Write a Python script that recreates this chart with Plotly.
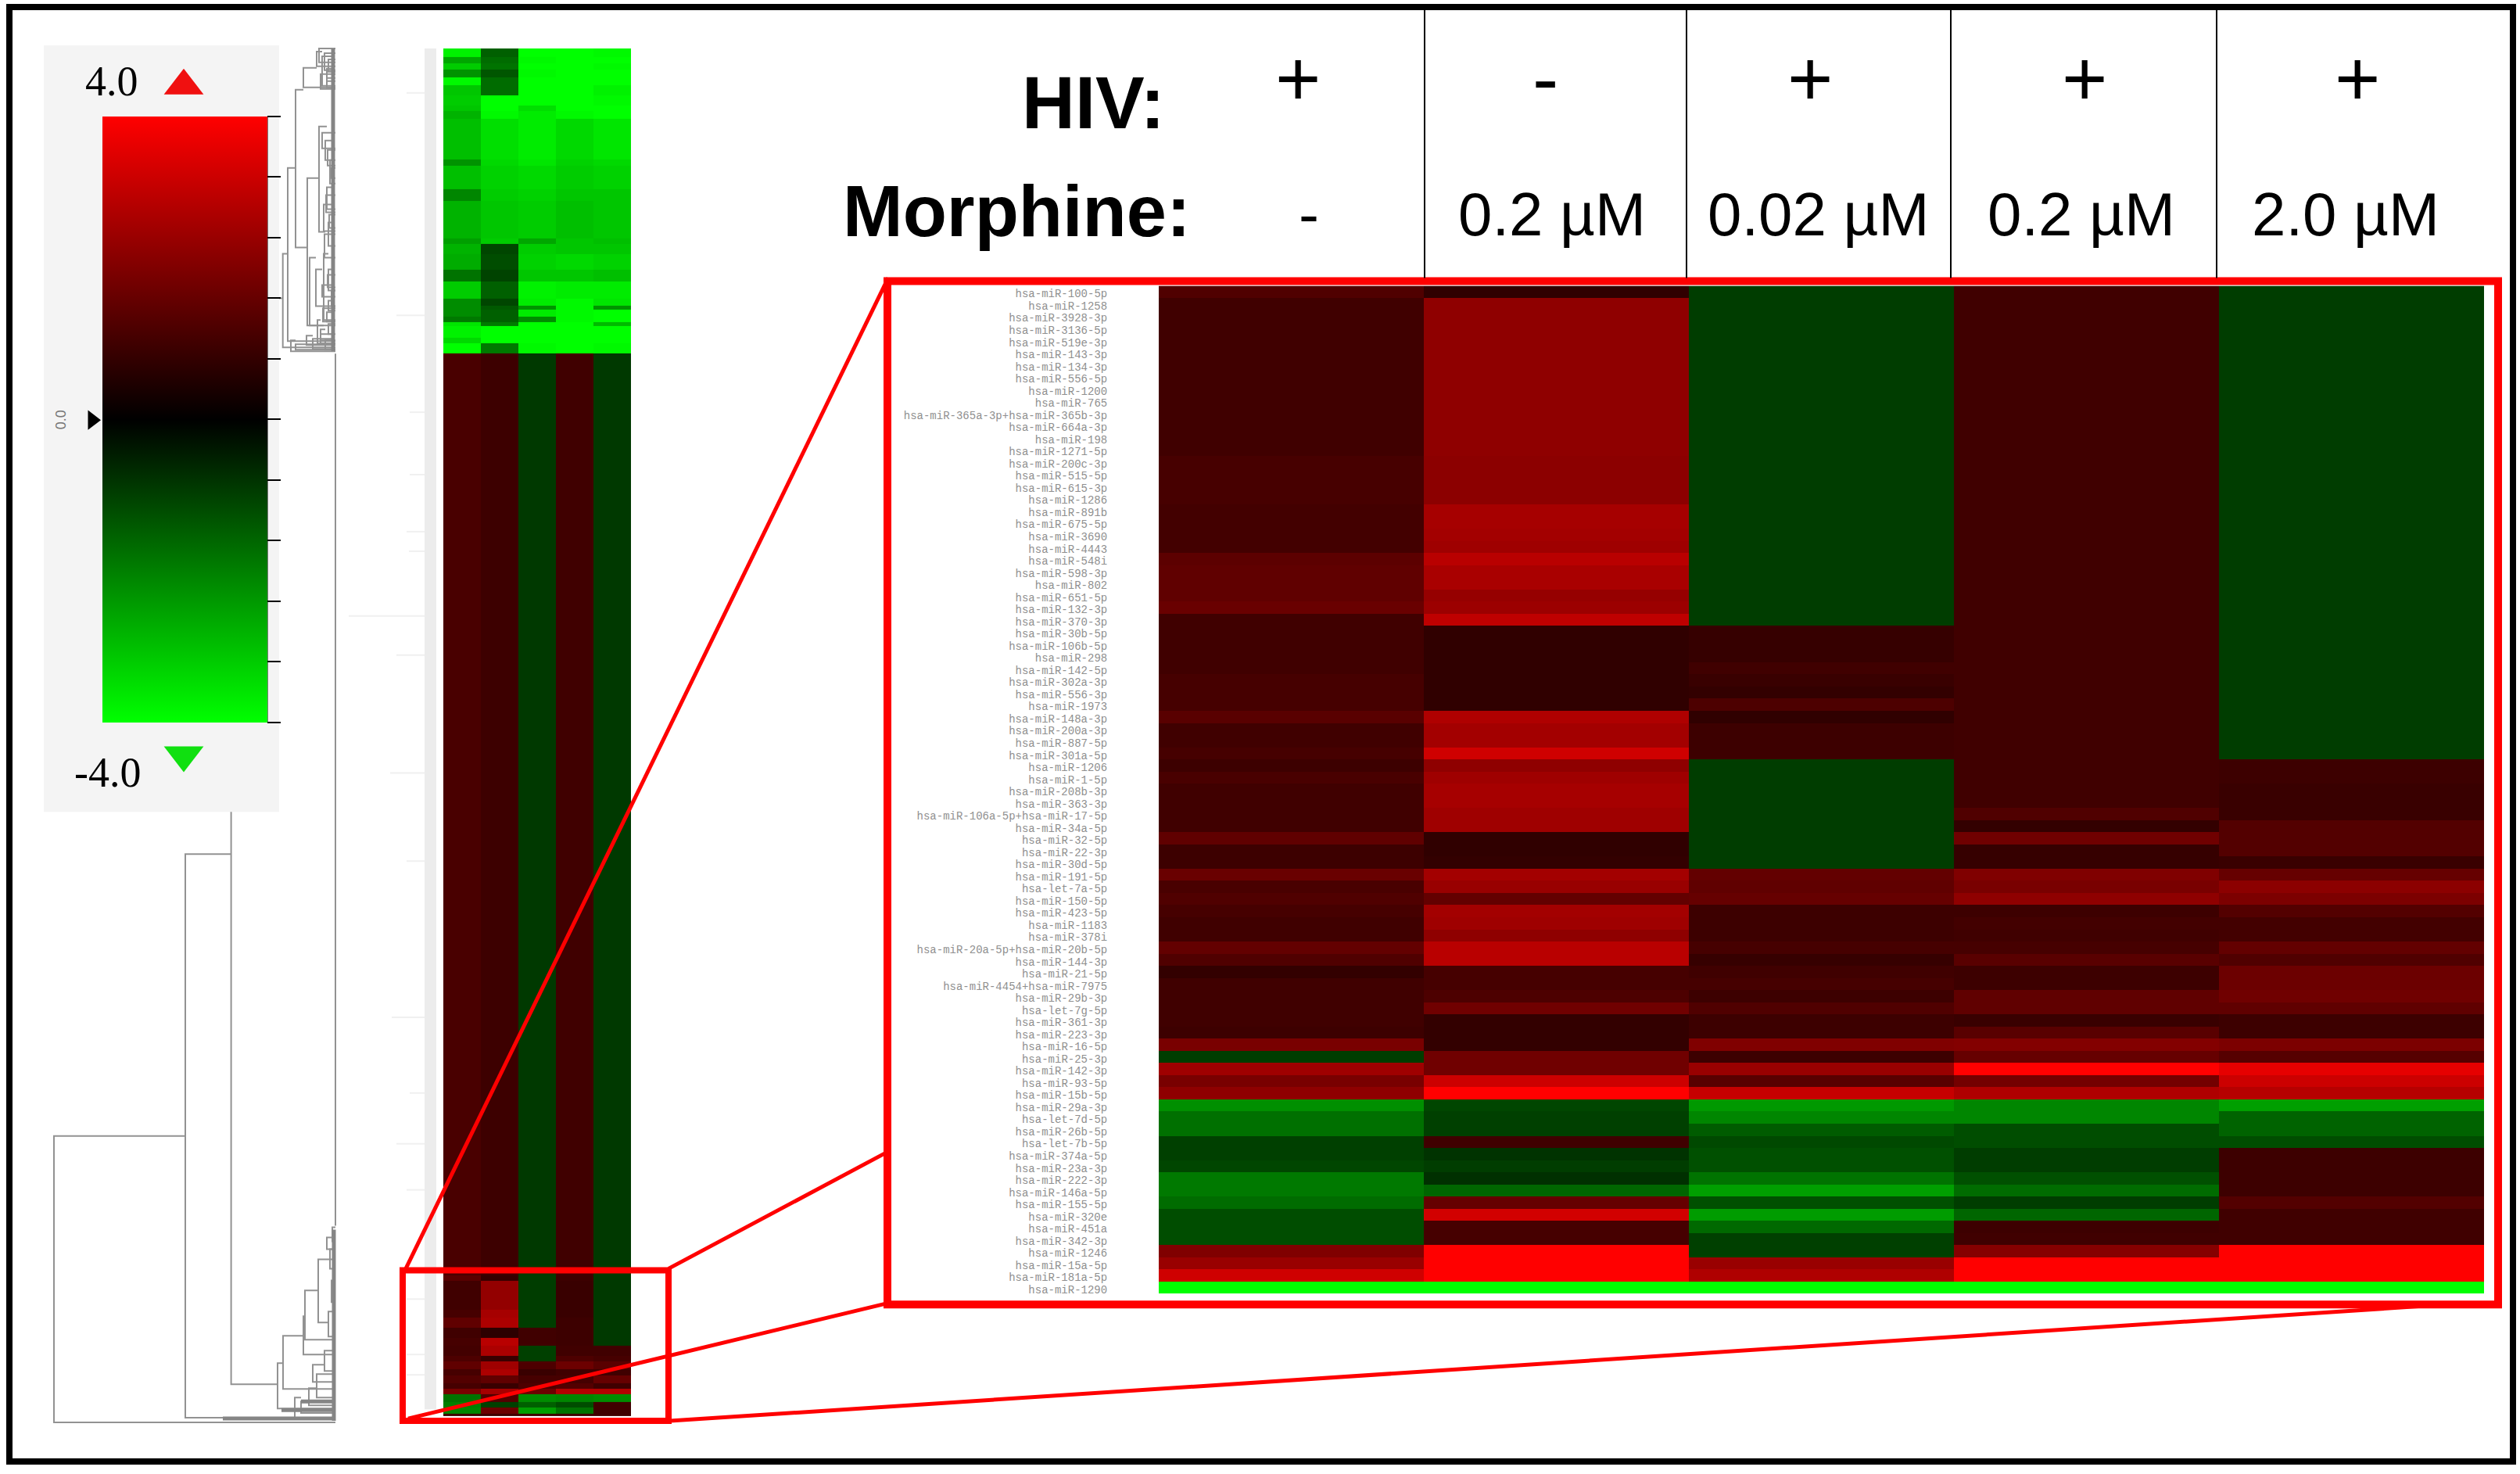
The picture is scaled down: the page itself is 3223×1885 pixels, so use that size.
import plotly.graph_objects as go

W, H = 3223, 1885

mirnas = [
    "hsa-miR-100-5p", "hsa-miR-1258", "hsa-miR-3928-3p", "hsa-miR-3136-5p", "hsa-miR-519e-3p", "hsa-miR-143-3p",
    "hsa-miR-134-3p", "hsa-miR-556-5p", "hsa-miR-1200", "hsa-miR-765", "hsa-miR-365a-3p+hsa-miR-365b-3p",
    "hsa-miR-664a-3p", "hsa-miR-198", "hsa-miR-1271-5p", "hsa-miR-200c-3p", "hsa-miR-515-5p", "hsa-miR-615-3p",
    "hsa-miR-1286", "hsa-miR-891b", "hsa-miR-675-5p", "hsa-miR-3690", "hsa-miR-4443", "hsa-miR-548i",
    "hsa-miR-598-3p", "hsa-miR-802", "hsa-miR-651-5p", "hsa-miR-132-3p", "hsa-miR-370-3p", "hsa-miR-30b-5p",
    "hsa-miR-106b-5p", "hsa-miR-298", "hsa-miR-142-5p", "hsa-miR-302a-3p", "hsa-miR-556-3p", "hsa-miR-1973",
    "hsa-miR-148a-3p", "hsa-miR-200a-3p", "hsa-miR-887-5p", "hsa-miR-301a-5p", "hsa-miR-1206", "hsa-miR-1-5p",
    "hsa-miR-208b-3p", "hsa-miR-363-3p", "hsa-miR-106a-5p+hsa-miR-17-5p", "hsa-miR-34a-5p", "hsa-miR-32-5p",
    "hsa-miR-22-3p", "hsa-miR-30d-5p", "hsa-miR-191-5p", "hsa-let-7a-5p", "hsa-miR-150-5p", "hsa-miR-423-5p",
    "hsa-miR-1183", "hsa-miR-378i", "hsa-miR-20a-5p+hsa-miR-20b-5p", "hsa-miR-144-3p", "hsa-miR-21-5p",
    "hsa-miR-4454+hsa-miR-7975", "hsa-miR-29b-3p", "hsa-let-7g-5p", "hsa-miR-361-3p", "hsa-miR-223-3p",
    "hsa-miR-16-5p", "hsa-miR-25-3p", "hsa-miR-142-3p", "hsa-miR-93-5p", "hsa-miR-15b-5p", "hsa-miR-29a-3p",
    "hsa-let-7d-5p", "hsa-miR-26b-5p", "hsa-let-7b-5p", "hsa-miR-374a-5p", "hsa-miR-23a-3p", "hsa-miR-222-3p",
    "hsa-miR-146a-5p", "hsa-miR-155-5p", "hsa-miR-320e", "hsa-miR-451a", "hsa-miR-342-3p", "hsa-miR-1246",
    "hsa-miR-15a-5p", "hsa-miR-181a-5p", "hsa-miR-1290",
]

col1 = [1.25, 1, 1, 1, 1, 1, 1, 1, 1, 1, 1, 1, 1, 1, 1.12, 1.12, 1.12, 1.12, 1.05, 1.05, 1.05, 1.05, 1.45, 1.5, 1.5, 1.5, 1.65,
        1, 1, 1, 1, 1, 1.1, 1.1, 1.1, 1.4, 1, 1, 1.1, .95, 1.15, 1, 1, 1, 1, 1.5, .95, .95, 1.65, 1.15, 1.25, 1.1, 1, 1, 1.55,
        1.25, .8, 1, 1, 1, 1, .95, 1.9, -.95, 2.5, 1.9, 2.25, -2.25, -1.75, -1.75, -1, -1, -1.1, -1.9, -1.9, -1.7, -1.2, -1.2,
        -1.2, 2, 2.4, 3.25, -4]
col2 = [.75, 2.25, 2.25, 2.25, 2.25, 2.25, 2.25, 2.25, 2.25, 2.25, 2.25, 2.25, 2.25, 2.25, 2.2, 2.2, 2.2, 2.2, 2.6, 2.6, 2.55,
        2.5, 2.9, 2.65, 2.65, 2.35, 2.45, 3, .75, .75, .75, .75, .75, .75, .75, 2.75, 2.55, 2.55, 3.25, 2.25, 2.5, 2.6, 2.6, 2.5,
        2.5, .75, .75, .8, 2.55, 2.4, 1.55, 2.55, 2.5, 2.25, 2.9, 2.9, 1.1, 1.1, 1.2, 1.75, .8, .8, .8, 1.75, 1.75, 3.2, 4, -1.1,
        -1, -1, 1, -.8, -.95, -.75, -1.6, 1.6, 3.3, 1.1, 1.1, 4, 4, 4, -4]
col3 = [-.95, -.95, -.95, -.95, -.95, -.95, -.95, -.95, -.95, -.95, -.95, -.95, -.95, -.95, -.95, -.95, -.95, -.95, -.95, -.95,
        -.95, -.95, -.95, -.95, -.95, -.95, -.95, -.95, .85, .85, .85, 1, .9, .8, 1.2, .75, .95, .95, .95, -.95, -.95, -.95, -.95,
        -.95, -.95, -.95, -.95, -.95, 1.55, 1.5, 1.6, .95, .95, .95, 1.1, .85, 1, 1.1, .95, 1.25, .95, .95, 2, .95, 2.4, 1.4, 3.1,
        -2.4, -2.1, -1.45, -1.15, -1.25, -1.25, -1.8, -2.5, -1.25, -2.45, -1.65, -1, -1, 2.4, 2.75, -4]
col4 = [1, 1, 1, 1, 1, 1, 1, 1, 1, 1, 1, 1, 1, 1, 1, 1, 1, 1, 1, 1, 1, 1, 1, 1, 1, 1, 1, 1, 1, 1, 1, 1, 1, 1, 1, 1, 1, 1, 1, 1, 1,
        1, 1, 1.25, .8, 1.75, .85, .85, 2, 1.9, 2.25, .95, 1.05, 1, 1.1, 1.4, .95, .95, 1.5, 1.5, .9, 1.4, 2.05, 1.6, 4, 1.8, 2.75,
        -2.1, -2.1, -1.2, -1.2, -.95, -.95, -1.25, -1.7, -.95, -1.6, .95, 1, 2.1, 4, 4, -4]
col5 = [-.95, -.95, -.95, -.95, -.95, -.95, -.95, -.95, -.95, -.95, -.95, -.95, -.95, -.95, -.95, -.95, -.95, -.95, -.95, -.95,
        -.95, -.95, -.95, -.95, -.95, -.95, -.95, -.95, -.95, -.95, -.95, -.95, -.95, -.95, -.95, -.95, -.95, -.95, -.95, .95, .95,
        .9, .9, .9, 1.3, 1.3, 1.3, .9, 1.6, 2.2, 1.95, 1.3, 1.05, 1.05, 1.55, 1.25, 1.7, 1.7, 1.75, 1.5, .95, .95, 1.95, 1.35, 3.6,
        3.2, 2.85, -2.5, -1.55, -1.55, -1.2, .95, .95, .95, .95, 1.3, 1, 1, 1, 4, 4, 4, -4]

hiv_labels = ["+", "-", "+", "+", "+"]
morphine_labels = ["-", "0.2 µM", "0.02 µM", "0.2 µM", "2.0 µM"]

# overview heatmap: rows per band, then the value of each band per condition
ov_rows = [11, 8, 8, 10, 10, 13, 13, 7, 10, 52, 8, 30, 15, 48, 7, 13, 20, 15, 23, 9, 5, 9, 7, 5, 15, 7, 13,
           1180, 8, 37, 10, 13, 13, 10, 13, 7, 10, 8, 10, 7, 7, 10, 7, 8, 3]
ov1 = [-3.8, -2.6, -3.2, -2.3, -3.9, -3.1, -3.2, -3.1, -2.8, -3, -2.3, -3, -2.1, -2.8, -2.5, -2.8, -2.7, -1.8, -3.2, -2.2, -2.2,
       -2.2, -1.9, -3.6, -3.8, -3.4, -4, 1.15, 1.4, 1, 1.1, 1.5, 1, 1.1, 1.05, 1.2, 1.5, 1.1, 1.3, 1.1, 1.9, -1.8, -2, -2.1, 1]
ov2 = [-1.5, -1.7, -1.8, -1.35, -1.7, -1.7, -4, -4, -3.9, -3.5, -3.4, -3.3, -3.2, -3.1, -3.2, -1.1, -1.2, -1.05, -1.5, -1.1, -1.4,
       -1.5, -1.5, -1.9, -4, -4, -1.9, .95, .8, 2.3, 2.6, 2.7, .7, 2.9, 2.7, .9, 2.5, 2.7, 1.5, .9, 2.6, 1.3, -1, 1.7, 1]
ov3 = [-4, -3.9, -4, -3.9, -4, -4, -4, -3.5, -3.7, -3.7, -3.6, -3.4, -3.3, -3.2, -2.6, -3.2, -3.3, -3.1, -3.8, -3.7, -2.3, -3.7,
       -2.2, -4, -4, -4, -3.9, -.9, -.95, -.95, -.95, -.95, 1, 1, -1, -1, 1.2, .9, 1.1, 1.2, 1.7, -2.2, -1.5, -2.5, 1]
ov4 = [-4, -4, -4, -4, -4, -4, -4, -4, -3.9, -3.4, -3.3, -3.2, -3.1, -3, -3.1, -3.1, -3.4, -3.1, -3.7, -3.9, -3.9, -3.9, -3.9, -4,
       -4, -4, -4, 1, .95, .9, .9, .95, .95, .95, 1, 1.2, 1.7, 1, 1.1, 1.3, 2.8, -2.1, -1.2, -1.8, 1]
ov5 = [-3.9, -4, -3.9, -4, -4, -3.8, -3.9, -4, -4, -3.6, -3.4, -3.3, -3.1, -3.1, -3, -3.1, -3.3, -3, -3.7, -3.6, -2.3, -4, -4, -2.9,
       -4, -4, -3.9, -.9, -.9, -.9, -.9, -.9, -.9, -.9, 1, 1.1, 1.4, 1, 1.6, 1, 2.8, -2.2, 1, 1, 1]

# dendrogram brackets: merge height, top and bottom child with where each child ends
den_x = [69, 237, 295.6, 361.7, 368, 378, 388, 393, 408, 429, 355, 362, 388, 390, 407,
         405, 412, 418, 414, 420, 416, 422, 418, 414, 420, 396, 404, 412, 420, 418, 406, 410, 416,
         372, 378, 392, 400, 410, 377, 385, 395, 405, 400, 415, 420, 424, 422, 418, 425,
         408, 415, 420, 410, 418, 412, 419, 423, 417, 421, 415, 419, 424, 413, 420]
den_top = [1455, 1094, 1040, 325, 215, 115, 87, 228, 162, 453, 1746, 1711, 1686, 1653, 1613,
           66, 72, 88, 325, 345, 180, 205, 240, 262, 285, 330, 345, 365, 385, 400, 410, 422, 436,
           436, 441, 430, 434, 428, 1790, 1795, 1778, 1760, 1748, 1730, 1680, 1640, 1600, 1585, 1572,
           62, 68, 76, 95, 100, 170, 192, 215, 250, 275, 300, 352, 372, 395, 415]
den_bot = [1822, 1816, 1773, 445, 437, 317, 112, 417, 297, 1570, 1804, 1779, 1735, 1716, 1694,
           85, 110, 104, 410, 372, 205, 235, 268, 296, 315, 417, 392, 380, 398, 412, 440, 436, 448,
           450, 448, 442, 447, 440, 1817, 1810, 1800, 1790, 1770, 1756, 1712, 1668, 1625, 1600, 1590,
           80, 90, 92, 114, 112, 190, 212, 228, 272, 292, 330, 368, 392, 412, 428]
den_top_end = [237, 295.6, 295.6, 368, 378, 388, 405, 408, 418, 429, 362, 388, 390, 407, 429,
               412, 428, 428, 420, 428, 428, 428, 428, 428, 428, 404, 412, 428, 428, 428, 410, 416, 428,
               378, 428, 400, 428, 428, 385, 428, 405, 428, 415, 428, 428, 429, 429, 429, 429,
               429, 429, 429, 429, 429, 429, 429, 429, 429, 429, 429, 429, 429, 429, 429]
den_bot_end = [429, 429, 355, 429, 429, 393, 429, 414, 416, 429, 429, 429, 429, 429, 420,
               429, 429, 429, 429, 429, 429, 429, 429, 429, 429, 429, 429, 429, 429, 429, 429, 429, 429,
               429, 429, 429, 429, 429, 429, 429, 429, 429, 429, 429, 429, 429, 429, 429, 429,
               429, 429, 429, 429, 429, 429, 429, 429, 429, 429, 429, 429, 429, 429, 429]

# thick merged leaf runs of the dendrogram
band_x = [[426, 426], [427, 427], [285, 428], [360, 428], [385, 428]]
band_y = [[62, 450], [1575, 1820], [1817, 1817], [1806, 1806], [1795, 1795]]

# faint label stubs left of the overview strip
stub_y = [119, 404, 528, 608, 681, 706, 789, 839, 990, 1103, 1303, 1400, 1465, 1524, 1664, 1735, 1761]
stub_x = [520, 507, 524, 524, 520, 523, 446, 507, 499, 520, 501, 524, 507, 520, 520, 520, 520]

colors = [[0, "#00ff00"], [0.5, "#000000"], [1, "#ff0000"]]


def xdom(a, b):
    return [a / W, b / W]


def ydom(top, bottom):
    return [1 - bottom / H, 1 - top / H]


fig = go.Figure()

# overlay axes span the whole canvas
dx, dy = [], []
for x, t, b, te, be in zip(den_x, den_top, den_bot, den_top_end, den_bot_end):
    dx += [te, x, x, be, None]
    dy += [t, t, b, b, None]
dx += [357, 361.7]
dy += [382, 382]
fig.add_trace(go.Scatter(x=dx, y=dy, xaxis="x3", yaxis="y3", mode="lines",
                         line=dict(color="#929292", width=2), hoverinfo="skip", showlegend=False))

bx, by = [], []
for xs, ys in zip(band_x, band_y):
    bx += xs + [None]
    by += ys + [None]
fig.add_trace(go.Scatter(x=bx, y=by, xaxis="x3", yaxis="y3", mode="lines",
                         line=dict(color="#858585", width=5), hoverinfo="skip", showlegend=False))

sx, sy = [], []
for x, y in zip(stub_x, stub_y):
    sx += [x, 543, None]
    sy += [y, y, None]
fig.add_trace(go.Scatter(x=sx, y=sy, xaxis="x3", yaxis="y3", mode="lines",
                         line=dict(color="#f0f0f0", width=2), hoverinfo="skip", showlegend=False))

# colour scale arrows
fig.add_trace(go.Scatter(x=[235], y=[110], xaxis="x3", yaxis="y3", mode="markers", hoverinfo="skip", showlegend=False,
                         marker=dict(symbol="triangle-up", size=44, color="#f01010", line=dict(width=0))))
fig.add_trace(go.Scatter(x=[235], y=[967], xaxis="x3", yaxis="y3", mode="markers", hoverinfo="skip", showlegend=False,
                         marker=dict(symbol="triangle-down", size=44, color="#10e010", line=dict(width=0))))
fig.add_trace(go.Scatter(x=[118], y=[538], xaxis="x3", yaxis="y3", mode="markers", hoverinfo="skip", showlegend=False,
                         marker=dict(symbol="triangle-right", size=22, color="black", line=dict(width=0))))

# overview heatmap
edges = [0]
for n in ov_rows:
    edges.append(edges[-1] + n)
fig.add_trace(go.Heatmap(z=[list(r) for r in zip(ov1, ov2, ov3, ov4, ov5)], x=[0, 1, 2, 3, 4, 5], y=edges,
                         xaxis="x2", yaxis="y2", coloraxis="coloraxis", hoverinfo="skip"))

# zoomed heatmap
rows = list(range(len(mirnas)))
fig.add_trace(go.Heatmap(z=[list(r) for r in zip(col1, col2, col3, col4, col5)], x=list(range(5)), y=rows,
                         xaxis="x", yaxis="y", coloraxis="coloraxis"))

red = dict(color="#ff0000", width=10)
shapes = [
    dict(type="rect", x0=1135, y0=360, x1=3195, y1=1671, line=red),
    dict(type="rect", x0=515, y0=1627, x1=855, y1=1820, line=dict(color="#ff0000", width=8)),
    dict(type="line", x0=519, y0=1625, x1=1136, y1=356, line=dict(color="#ff0000", width=5)),
    dict(type="line", x0=855, y0=1625, x1=1136, y1=1475, line=dict(color="#ff0000", width=5)),
    dict(type="line", x0=522, y0=1817, x1=1136, y1=1669, line=dict(color="#ff0000", width=5)),
    dict(type="line", x0=857, y0=1820, x1=3097, y1=1673, line=dict(color="#ff0000", width=5)),
    dict(type="rect", x0=12, y0=9, x1=3214, y1=1872, line=dict(color="black", width=8)),
    dict(type="rect", x0=56, y0=58, x1=357, y1=1040, fillcolor="#f4f4f4", line=dict(width=0), layer="below"),
    dict(type="rect", x0=543, y0=62, x1=558, y1=1805, fillcolor="#ececec", line=dict(width=0), layer="below"),
    dict(type="line", x0=341.5, y0=150, x1=341.5, y1=925, line=dict(color="black", width=2)),
]
for xl in [1822, 2157, 2495, 2835]:
    shapes.append(dict(type="line", x0=xl, y0=12, x1=xl, y1=356, line=dict(color="black", width=2)))
for s in shapes:
    s.update(xref="x3", yref="y3")

annotations = []


def label(x, y, text, size, family="Liberation Sans", color="black", **kw):
    annotations.append(dict(x=x, y=y, xref="x3", yref="y3", text=text, showarrow=False,
                            font=dict(family=family, size=size, color=color), **kw))


label(1398, 132, "<b>HIV:</b>", 94)
label(1300, 270, "<b>Morphine:</b>", 92)
for x, t in zip([1660, 1976, 2315, 2666, 3015], hiv_labels):
    label(x, 100, t, 100)
for x, t in zip([1674, 1985, 2325, 2662, 3000], morphine_labels):
    label(x, 274, t, 78)
label(143, 104, "4.0", 54, family="Liberation Serif")
label(137, 990, "-4.0", 54, family="Liberation Serif")
label(78, 538, "0.0", 18, color="#777777", textangle=-90)

hidden = dict(visible=False, showgrid=False, zeroline=False)

fig.update_layout(
    width=W, height=H, margin=dict(l=0, r=0, t=0, b=0, pad=0),
    paper_bgcolor="white", plot_bgcolor="rgba(0,0,0,0)", showlegend=False,
    shapes=shapes, annotations=annotations,
    coloraxis=dict(
        cmin=-4, cmax=4, colorscale=colors,
        colorbar=dict(
            x=130.5 / W, xanchor="left", xpad=0, y=1 - 925 / H, yanchor="bottom", ypad=0,
            thicknessmode="pixels", thickness=210.5, lenmode="pixels", len=775,
            tickmode="array", tickvals=[-4, -3.2, -2.4, -1.6, -0.8, 0, 0.8, 1.6, 2.4, 3.2, 4],
            ticks="outside", ticklen=17, tickcolor="black", tickwidth=2,
            showticklabels=False, outlinewidth=0, borderwidth=0, bgcolor="rgba(0,0,0,0)",
        ),
    ),
    xaxis=dict(domain=xdom(1482, 3177), range=[-0.5, 4.5], **hidden),
    # labels sit a little below the row centres in the original
    yaxis=dict(domain=ydom(366, 1657), range=[82.5, -0.5], showgrid=False, zeroline=False,
               tickmode="array", tickvals=[r + 0.15 for r in rows], ticktext=mirnas, ticks="outside", ticklen=62,
               tickcolor="rgba(0,0,0,0)", tickwidth=1, showline=False,
               tickfont=dict(family="Liberation Mono", size=14, color="#8f8f8f")),
    xaxis2=dict(domain=xdom(567, 807), range=[0, 5], **hidden),
    yaxis2=dict(domain=ydom(62, 1814), range=[edges[-1], 0], **hidden),
    xaxis3=dict(domain=[0, 1], range=[0, W], **hidden),
    yaxis3=dict(domain=[0, 1], range=[H, 0], **hidden),
)

fig.write_html("out.html", config={"displayModeBar": False},
               post_script="document.body.style.margin='0';document.documentElement.style.overflow='hidden';")
